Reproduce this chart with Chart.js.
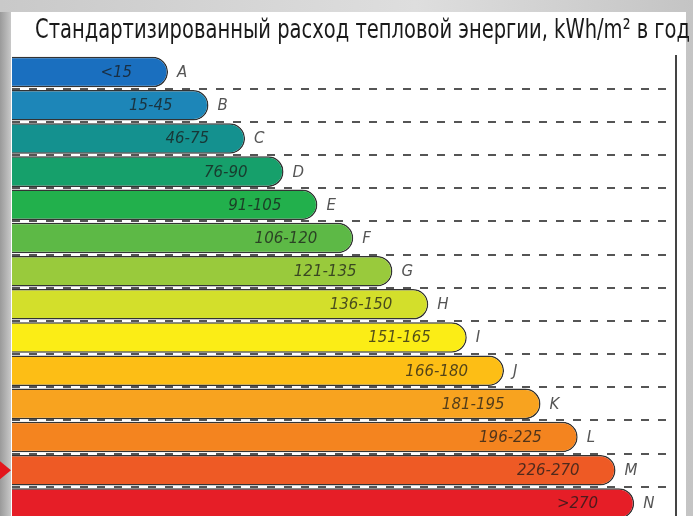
<!DOCTYPE html>
<html>
<head>
<meta charset="utf-8">
<script src="https://cdn.jsdelivr.net/npm/chart.js@4"></script>
<style>
  html, body { margin: 0; padding: 0; overflow: hidden; background: #fff; }
  canvas { display: block; }
</style>
</head>
<body>
<canvas id="chart" width="693" height="524"></canvas>
<script>
// energy classes, top to bottom
const classes = ['A', 'B', 'C', 'D', 'E', 'F', 'G', 'H', 'I', 'J', 'K', 'L', 'M', 'N'];
const ranges = ['<15', '15-45', '46-75', '76-90', '91-105', '106-120', '121-135', '136-150',
  '151-165', '166-180', '181-195', '196-225', '226-270', '>270'];
// visual bar length, % of the frame width
const barLength = [23.5, 29.6, 35.1, 40.9, 46.0, 51.4, 57.3, 62.7, 68.5, 74.1, 79.6, 85.2, 90.9, 93.7];
const colors = ['#1a6fbf', '#1d86b8', '#14918f', '#16a06b', '#22b04c', '#5db946', '#99ca3c', '#d3df2b',
  '#fbed16', '#fdbe15', '#f8a31f', '#f4841f', '#ee5a25', '#e61e27'];
const markedClass = 'M';
const title = 'Стандартизированный расход тепловой энергии, kWh/m² в год';

const backdrop = {
  id: 'backdrop',
  beforeDraw(chart) {
    const { ctx, width, height } = chart;
    ctx.save();
    let g = ctx.createLinearGradient(0, 0, width, 0);
    g.addColorStop(0, '#c9c9c9');
    g.addColorStop(0.6, '#dedede');
    g.addColorStop(1, '#c4c4c4');
    ctx.fillStyle = g;
    ctx.fillRect(0, 0, width, height);
    g = ctx.createLinearGradient(0, 0, 11, 0);
    g.addColorStop(0, '#9a9a9a');
    g.addColorStop(1, '#c8c8c8');
    ctx.fillStyle = g;
    ctx.fillRect(0, 12, 11, height);
    ctx.fillStyle = '#ffffff';
    ctx.fillRect(11, 12, 675, height);

    // title, a condensed face squeezed to the reference width
    ctx.font = '26px "Liberation Sans Narrow", "DejaVu Sans Condensed", sans-serif';
    const w = ctx.measureText(title).width;
    ctx.translate(690, 38);
    ctx.scale(655 / w, 1);
    ctx.fillStyle = '#1a1a1a';
    ctx.textAlign = 'right';
    ctx.textBaseline = 'alphabetic';
    ctx.fillText(title, 0, 0);
    ctx.restore();
  }
};

const barText = {
  id: 'barText',
  afterDatasetsDraw(chart) {
    const { ctx } = chart;
    const bars = chart.getDatasetMeta(0).data;
    ctx.save();
    ctx.textBaseline = 'middle';
    bars.forEach((bar, i) => {
      ctx.font = 'italic 15px "DejaVu Sans"';
      ctx.fillStyle = 'rgba(25,25,25,0.75)';
      ctx.textAlign = 'right';
      ctx.fillText(ranges[i], bar.x - 36, bar.y + 1);
      ctx.fillStyle = '#555';
      ctx.textAlign = 'left';
      ctx.fillText(classes[i], bar.x + 9, bar.y + 1);
    });
    // red pointer at the left edge
    const y = chart.scales.y.getPixelForValue(classes.indexOf(markedClass));
    ctx.fillStyle = '#e3161d';
    ctx.beginPath();
    ctx.moveTo(0, y - 9);
    ctx.lineTo(11, y);
    ctx.lineTo(0, y + 9);
    ctx.closePath();
    ctx.fill();
    ctx.restore();
  }
};

new Chart(document.getElementById('chart'), {
  type: 'bar',
  data: {
    labels: classes,
    datasets: [{
      data: barLength,
      backgroundColor: colors,
      borderColor: '#333',
      borderWidth: 1.5,
      borderSkipped: 'start',
      borderRadius: { topLeft: 0, bottomLeft: 0, topRight: 20, bottomRight: 20 },
      barPercentage: 0.92,
      categoryPercentage: 1
    }]
  },
  options: {
    indexAxis: 'y',
    responsive: false,
    animation: false,
    layout: { padding: { left: 12, right: 17, top: 55.5, bottom: 4 } },
    plugins: {
      legend: { display: false },
      tooltip: { enabled: false }
    },
    scales: {
      x: { display: false, min: 0, max: 100 },
      y: {
        position: 'right',
        ticks: { display: false },
        grid: {
          drawTicks: false,
          lineWidth: 2,
          color: c => c.index === 0 ? 'transparent' : '#555'
        },
        border: { display: true, color: '#444', width: 2, dash: [8, 9] }
      }
    }
  },
  plugins: [backdrop, barText]
});
</script>
</body>
</html>
